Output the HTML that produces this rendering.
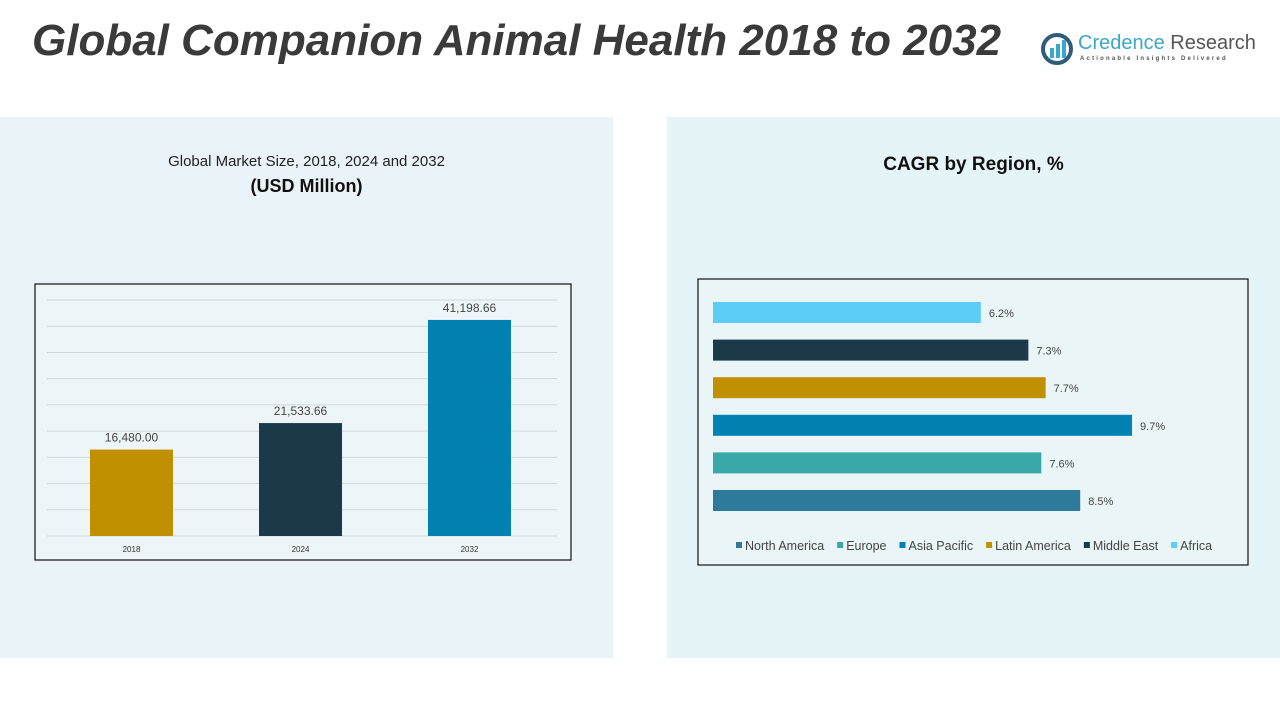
<!DOCTYPE html>
<html><head><meta charset="utf-8"><style>
body{margin:0;width:1280px;height:720px;background:#fff;position:relative;overflow:hidden;font-family:"Liberation Sans",sans-serif}
.abs{position:absolute}
</style></head><body>
<div class="abs" style="left:32px;top:16px;font-size:44px;font-weight:bold;font-style:italic;color:#3a3a3a;white-space:nowrap">Global Companion Animal Health 2018 to 2032</div>
<div class="abs" style="left:1040px;top:30px;width:215px;height:40px">
<svg width="36" height="36" viewBox="0 0 36 36" style="position:absolute;left:0;top:2px"><circle cx="17" cy="17" r="14" fill="none" stroke="#2e5c7a" stroke-width="4"/><rect x="10" y="16" width="4" height="10" fill="#3aa8c8"/><rect x="16" y="12" width="4" height="14" fill="#3aa8c8"/><rect x="22" y="8" width="4" height="18" fill="#3aa8c8"/></svg>
<div class="abs" style="left:38px;top:2px;font-size:20px;color:#3aa8c8;white-space:nowrap">Credence <span style="color:#555">Research</span></div>
<div class="abs" style="left:40px;top:26px;font-size:6px;letter-spacing:2.2px;color:#555;white-space:nowrap;font-weight:bold">Actionable Insights Delivered</div>
</div>
<div class="abs" style="left:0;top:117px;width:613px;height:541px;background:#eaf3f8"></div>
<div class="abs" style="left:667px;top:117px;width:613px;height:541px;background:#e5f4f6"></div>
<div class="abs" style="left:0;top:153px;width:613px;text-align:center;font-size:15px;color:#222">Global Market Size, 2018, 2024 and 2032</div>
<div class="abs" style="left:0;top:176px;width:613px;text-align:center;font-size:18px;font-weight:bold;color:#111">(USD Million)</div>
<div class="abs" style="left:667px;top:154px;width:613px;text-align:center;font-size:19px;font-weight:bold;color:#111">CAGR by Region, %</div>
<svg class="abs" style="left:0;top:0" width="1280" height="720" id="svg">
<rect x="35" y="284" width="536" height="276" fill="#eef5f9" stroke="#111" stroke-width="1.2"/>
<rect x="698" y="279" width="550" height="286" fill="#e9f5f7" stroke="#111" stroke-width="1.2"/>
<g id="g1"></g><g id="g2"></g>
</svg>
<script>
const years=["2018","2024","2032"];
const sizes=[16480.00,21533.66,41198.66];
const sizeLabels=["16,480.00","21,533.66","41,198.66"];
const sizeColors=["#c09000","#1a3a4a","#0282b2"];
const regions=["Africa","Middle East","Latin America","Asia Pacific","Europe","North America"];
const cagr=[6.2,7.3,7.7,9.7,7.6,8.5];
const regionColors=["#5ccdf7","#1a3a4a","#c09000","#0282b2","#3aa8a8","#2e7a9a"];
const legendOrder=["North America","Europe","Asia Pacific","Latin America","Middle East","Africa"];
const NS="http://www.w3.org/2000/svg";
function mk(t,a,p){const e=document.createElementNS(NS,t);for(const k in a)e.setAttribute(k,a[k]);p.appendChild(e);return e;}
const g1=document.getElementById('g1'),g2=document.getElementById('g2');
const yMax=45000,y0=536,yTop=300;
const yS=v=>y0-(v/yMax)*(y0-yTop);
for(let v=0;v<=yMax;v+=5000){const l=mk('line',{x1:47,x2:557,y1:yS(v),y2:yS(v),stroke:'#d2d8dc','stroke-width':1},g1);

}
const band=169,x0=47,bw=83;
years.forEach((y,i)=>{const cx=x0+band*i+band/2;
const r=mk('rect',{x:cx-bw/2,y:yS(sizes[i]),width:bw,height:y0-yS(sizes[i]),fill:sizeColors[i]},g1);


const t=mk('text',{x:cx,y:yS(sizes[i])-8,'text-anchor':'middle','font-size':12,fill:'#444'},g1);t.textContent=sizeLabels[i];


const a=mk('text',{x:cx,y:552,'text-anchor':'middle','font-size':8,fill:'#333'},g1);a.textContent=y;

});
const xz=713,ppu=43.2,rowTop=302,rowStep=37.6,bh=21;
const xS=v=>xz+v*ppu;
regions.forEach((r,i)=>{const y=rowTop+rowStep*i;
const b=mk('rect',{x:xz,y:y,width:xS(cagr[i])-xz,height:bh,fill:regionColors[i]},g2);


const t=mk('text',{x:xS(cagr[i])+8,y:y+15,'font-size':11,fill:'#444'},g2);t.textContent=cagr[i].toFixed(1)+'%';

});
let lx=736;
legendOrder.forEach(n=>{const c=regionColors[regions.indexOf(n)];
const s=mk('rect',{x:lx,y:542,width:6,height:6,fill:c},g2);


const t=mk('text',{x:lx+9,y:550,'font-size':12.5,fill:'#444'},g2);t.textContent=n;


lx+=9+t.getComputedTextLength()+13;});
</script>
</body></html>
